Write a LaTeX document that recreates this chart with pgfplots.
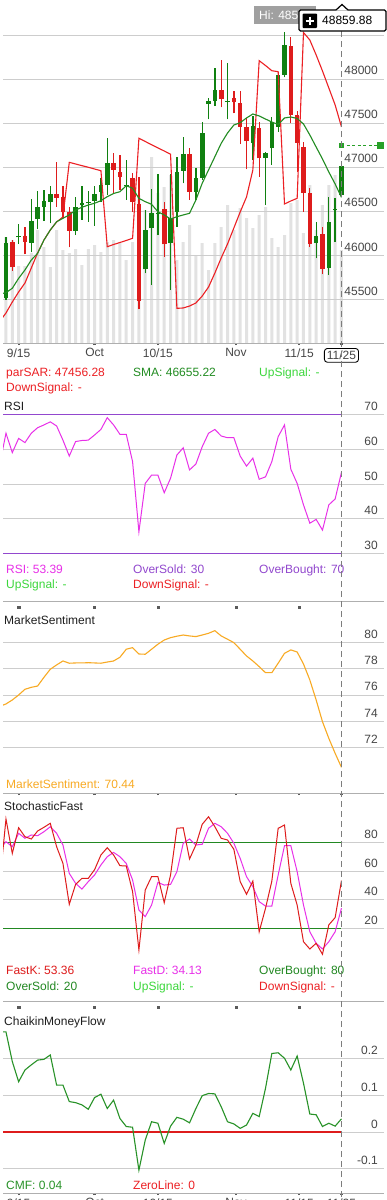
\documentclass[border=0pt]{standalone}
\usepackage{pgfplots}
\pgfplotsset{compat=1.18}
\usepackage{pgfplotstable}
\usepackage{fontspec}
\setmainfont{Liberation Sans}

\definecolor{gridgray}{RGB}{205,205,205}
\definecolor{axisgray}{RGB}{175,175,175}
\definecolor{tickgray}{RGB}{90,90,90}
\definecolor{labelgray}{RGB}{70,70,70}
\definecolor{cgreen}{RGB}{16,128,16}
\definecolor{cred}{RGB}{222,28,28}
\definecolor{volgray}{RGB}{226,226,226}
\definecolor{sarred}{RGB}{236,32,36}
\definecolor{smagreen}{RGB}{34,140,34}
\definecolor{upgreen}{RGB}{60,215,60}
\definecolor{rsimag}{RGB}{232,48,232}
\definecolor{purp}{RGB}{146,72,206}
\definecolor{sentor}{RGB}{248,170,36}
\definecolor{obgreen}{RGB}{34,136,34}
\definecolor{cmfgreen}{RGB}{40,146,40}
\definecolor{dashgray}{RGB}{125,125,125}
\definecolor{higray}{RGB}{160,160,160}
\definecolor{lastgreen}{RGB}{40,160,40}
\definecolor{titlecol}{RGB}{30,30,30}

\newcommand\fs{\fontsize{12}{14}\selectfont}

\pgfplotstableread{
i O H L C
0 45511 46205 45490 46133
2 46201 46349 46125 46219
4 46140 46636 46031 46386
5 46409 46731 46292 46542
6 46549 46739 46386 46614
7 46606 46788 46360 46693
11 46276 46663 46227 46542
12 46565 46788 46398 46588
13 46588 46727 46379 46602
14 46614 46788 46333 46693
15 46719 46872 46606 46795
16 46795 47326 46682 47042
19 46780 47080 46625 46800
22 45837 46511 45792 46284
23 46303 46747 45659 46474
24 46466 46920 46227 46481
26 46133 46920 45602 46417
27 46492 47117 46322 46947
28 46955 47338 46815 47144
30 46719 46992 46625 46878
31 46878 47515 46852 47383
32 47713 47781 47542 47750
33 47753 48122 47693 47875
35 47740 48179 47542 47755
39 47276 47580 47080 47466
41 47102 47170 46568 47156
42 47212 47572 47023 47508
43 47458 48083 47401 48046
44 48046 48538 48019 48386
49 46140 46379 45962 46219
51 45849 46663 45773 46379
52 46510 46644 46151 46528
53 46682 47023 46682 47010
}\greenc

\pgfplotstableread{
i O H L C
1 46148 46170 45822 45860
3 46219 46321 46008 46151
8 46693 47060 46549 46651
9 46663 46788 46417 46485
10 46485 46542 46088 46273
17 47042 47163 46701 46966
18 46947 47136 46739 46883
20 46872 46928 46492 46606
21 46576 46890 45383 45477
25 46523 46606 45981 46122
29 47148 47212 46625 46719
34 47875 48216 47678 47773
36 47781 47867 47610 47735
37 47731 47867 47261 47458
38 47458 47553 46974 47299
40 47440 47515 46890 47099
45 48375 48481 47497 47591
46 47591 47640 46947 47276
47 47231 47288 46492 46708
48 46708 46758 46094 46125
50 46235 46322 45784 45837
}\redc

\pgfplotstableread{
i sar sma vol rsi sent k d cmf
-1 45244 45556 0 55.6 75.13 51.5 75.3 0.273
0 45341 45572 106 64.7 75.32 96.6 80.7 0.273
1 45466 45622 103 59.1 75.62 72.5 77.2 0.192
2 45580 45735 77 63.2 76.00 90.5 86.6 0.137
3 45682 45830 77 62.0 76.43 84.2 83.1 0.169
4 45852 45943 90 64.7 76.58 82.6 85.4 0.183
5 46023 46019 113 66.3 76.68 88.2 84.9 0.196
6 46170 46170 96 67.1 77.34 90.8 87.7 0.198
7 46284 46284 76 68.0 77.95 93.6 91.2 0.210
8 46375 46378 113 66.8 78.28 77.2 86.6 0.128
9 46432 46417 93 62.7 78.58 65.5 78.4 0.128
10 47053 46455 90 58.1 78.41 36.8 58.5 0.083
11 47034 46511 94 62.3 78.43 50.8 51.5 0.080
12 47015 46542 78 62.6 78.43 55.0 47.5 0.074
13 46997 46568 94 62.7 78.45 55.0 52.7 0.062
14 46977 46588 98 64.2 78.43 61.1 57.4 0.094
15 46958 46617 91 65.8 78.41 71.4 64.4 0.103
16 46094 46663 101 69.2 78.50 76.5 70.2 0.064
17 46119 46699 103 67.1 78.58 71.4 73.2 0.087
18 46142 46719 101 64.4 78.86 63.9 70.2 0.037
19 46165 46788 83 64.4 79.47 63.7 65.5 0.015
20 46190 46758 101 56.5 79.59 45.7 53.9 0.013
21 47326 46644 148 36.2 79.11 4.8 32.8 -0.104
22 47290 46606 133 50.2 79.09 46.8 28.2 -0.022
23 47253 46576 186 52.6 79.47 56.2 36.3 0.028
24 47217 46492 150 52.6 79.85 56.2 52.2 0.024
25 47182 46455 156 47.5 80.17 38.0 50.3 -0.031
26 47145 46409 168 51.7 80.35 57.4 50.8 0.016
27 45394 46435 83 58.4 80.46 90.1 59.7 0.040
28 45398 46455 101 60.5 80.55 90.5 79.6 0.035
29 45420 46474 118 54.1 80.48 68.6 82.6 0.025
30 45455 46625 88 55.8 80.43 78.4 78.4 0.064
31 45534 46815 100 60.8 80.55 92.9 78.9 0.099
32 45636 46966 73 64.7 80.68 98.2 90.1 0.105
33 45795 47117 100 65.8 80.88 91.2 93.6 0.104
34 45966 47269 116 63.9 80.48 83.1 91.2 0.069
35 46125 47386 138 63.4 80.23 81.9 86.6 0.028
36 46307 47477 113 63.4 79.97 75.4 79.6 0.022
37 46489 47503 135 58.1 79.47 52.7 69.0 0.010
38 46659 47557 125 55.2 78.96 43.8 56.2 0.019
39 46966 47602 115 57.5 78.58 53.1 49.2 0.051
40 48208 47580 128 51.4 78.15 17.6 38.7 0.042
41 48153 47545 136 52.1 77.69 34.0 35.6 0.119
42 48094 47511 105 56.5 77.69 53.1 35.6 0.214
43 48083 47483 96 63.7 78.41 90.1 57.4 0.216
44 46580 47557 108 67.1 79.16 92.4 77.9 0.201
45 46614 47568 140 54.3 79.42 51.5 77.9 0.169
46 46644 47551 143 50.2 79.26 36.3 59.7 0.207
47 48528 47489 110 44.0 78.35 10.6 36.3 0.133
48 48443 47364 158 38.7 77.14 5.5 17.6 0.049
49 48273 47227 113 39.8 75.62 9.5 9.5 0.047
50 48091 47091 138 36.7 73.97 1.8 5.5 0.015
51 47898 46943 158 44.0 72.71 22.4 10.6 0.024
52 47705 46807 168 45.7 71.57 27.5 17.6 0.016
53 47456 46655 93 53.4 70.51 53.4 34.1 0.036
}\ind

\pgfplotsset{
  panel/.style={
    scale only axis, width=380.5pt,
    xmin=-0.47, xmax=59.64,
    axis x line*=bottom, axis y line*=right,
    x axis line style={draw=axisgray, line width=0.9pt, -},
    y axis line style={draw=none},
    xtick={2,14,24,36.33,46.33,53},
    xticklabels={},
    tick align=outside,
    major tick length=2pt,
    xtick style={draw=tickgray, line width=2.2pt},
    ytick style={draw=none},
    ymajorgrids,
    grid style={draw=gridgray, line width=0.9pt},
    yticklabel style={anchor=base east, inner sep=0pt, xshift=-7.5pt, yshift=4pt, font=\fs, text=labelgray},
    xticklabel style={font=\fs, text=labelgray},
  },
  noxline/.style={x axis line style={draw=none}, xtick style={draw=none}},
  topline/.style={extra description/.code={\draw[axisgray, line width=0.9pt] (rel axis cs:0,1) -- (rel axis cs:1,1);}},
  candle/.style={draw=none, mark=none, forget plot, error bars/.cd, y dir=plus, y explicit, error mark=none,
     error bar style={draw=#1, line width=1.3pt}},
  body/.style={draw=none, mark=none, forget plot, error bars/.cd, y dir=plus, y explicit, error mark=none,
     error bar style={draw=#1, line width=4.6pt}},
  topticks/.style={only marks, mark=square*, mark size=1.1pt, color=tickgray, mark options={draw=none}},
}

\begin{document}
\begin{tikzpicture}
\useasboundingbox (0pt,0pt) rectangle (387pt,-1200pt);
\fill[white] (0pt,0pt) rectangle (387pt,-1200pt);

% ---------- volume (background) ----------
\begin{axis}[scale only axis, width=380.5pt, height=339.7pt, at={(3pt,-343pt)}, anchor=south west,
  xmin=-0.47, xmax=59.64, ymin=0, ymax=339.7, hide axis]
\addplot[ybar, bar width=3pt, fill=volgray, draw=none] table[x=i, y=vol] \ind;
\end{axis}

% ---------- price panel ----------
\begin{axis}[panel, height=339.7pt, at={(3pt,-343pt)}, anchor=south west,
  ymin=45000, ymax=48860,
  ytick={45500,46000,46500,47000,47500,48000,48500},
  yticklabels={45500,46000,46500,47000,47500,48000,{}},
  xtick={2,14,24,36.33,46.33},
  xticklabels={9/15,Oct,10/15,Nov,11/15},
  extra x ticks={53}, extra x tick labels={11/25},
  extra x tick style={xticklabel style={draw=black, line width=0.9pt, rounded corners=3pt, inner sep=2.5pt, yshift=-3pt}},
]
\addplot[candle=cgreen] table[x=i, y=L, y error expr=\thisrow{H}-\thisrow{L}] \greenc;
\addplot[candle=cred] table[x=i, y=L, y error expr=\thisrow{H}-\thisrow{L}] \redc;
\addplot[body=cgreen] table[x=i, y=O, y error expr=\thisrow{C}-\thisrow{O}] \greenc;
\addplot[body=cred] table[x=i, y=C, y error expr=\thisrow{O}-\thisrow{C}] \redc;
\addplot[sarred, line width=1.1pt, mark=none] table[x=i, y=sar] \ind;
\addplot[smagreen, line width=1.1pt, mark=none] table[x=i, y=sma] \ind;
\addplot[lastgreen, line width=1pt, dash pattern=on 3pt off 2.5pt, mark=none] coordinates {(53,47242) (59.1,47242)};
\addplot[lastgreen, only marks, mark=square*, mark size=2pt] coordinates {(53,47242)};
\addplot[lastgreen, only marks, mark=square*, mark size=3pt] coordinates {(59.1,47242)};
\end{axis}

% ---------- RSI ----------
\begin{axis}[panel, noxline, height=206pt, at={(3pt,-601pt)}, anchor=south west,
  ymin=16.21, ymax=75.75, ytick={30,40,50,60,70}, yticklabels={30,40,50,60,70}]
\addplot[purp, line width=1.2pt, mark=none] coordinates {(-1,70) (53,70)};
\addplot[purp, line width=1.2pt, mark=none] coordinates {(-1,30) (53,30)};
\addplot[rsimag, line width=1pt, mark=none] table[x=i, y=rsi] \ind;
\end{axis}

% ---------- Market sentiment ----------
\begin{axis}[panel, topline, height=192pt, at={(3pt,-793pt)}, anchor=south west,
  ymin=68.56, ymax=83.13, ytick={72,74,76,78,80}, yticklabels={72,74,76,78,80}]
\addplot[topticks] coordinates {(2,82.68) (14,82.68) (24,82.68) (36.33,82.68) (46.33,82.68)};
\addplot[sentor, line width=1.1pt, mark=none] table[x=i, y=sent] \ind;
\end{axis}

% ---------- Stochastic fast ----------
\begin{axis}[panel, noxline, height=206pt, at={(3pt,-1001pt)}, anchor=south west,
  ymin=-30.96, ymax=113.43, ytick={20,40,60,80}, yticklabels={20,40,60,80}]
\addplot[obgreen, line width=1.1pt, mark=none] coordinates {(-1,80) (53,80)};
\addplot[obgreen, line width=1.1pt, mark=none] coordinates {(-1,20) (53,20)};
\addplot[rsimag, line width=1pt, mark=none] table[x=i, y=d] \ind;
\addplot[cred, line width=1pt, mark=none] table[x=i, y=k] \ind;
\end{axis}

% ---------- Chaikin money flow ----------
\begin{axis}[panel, topline, height=192pt, at={(3pt,-1193pt)}, anchor=south west,
  ymin=-0.1662, ymax=0.357, ytick={-0.1,0,0.1,0.2}, yticklabels={-0.1,0,0.1,0.2},
  xticklabels={9/15,Oct,10/15,Nov,11/15,11/25}]
\addplot[topticks] coordinates {(2,0.3406) (14,0.3406) (24,0.3406) (36.33,0.3406) (46.33,0.3406)};
\addplot[cred, line width=1.1pt, mark=none] coordinates {(-1,0) (53,0)};
\addplot[cmfgreen, line width=1.1pt, mark=none] table[x=i, y=cmf] \ind;
\end{axis}

% ---------- texts ----------
\begin{scope}[every node/.style={anchor=base west, inner sep=0pt, font=\fs}]
\node[text=sarred] at (6pt,-376pt) {parSAR: 47456.28};
\node[text=smagreen] at (133pt,-376pt) {SMA: 46655.22};
\node[text=upgreen] at (259pt,-376pt) {UpSignal: -};
\node[text=sarred] at (6pt,-391pt) {DownSignal: -};

\node[text=titlecol] at (4pt,-410pt) {RSI};
\node[text=rsimag] at (6pt,-573pt) {RSI: 53.39};
\node[text=purp] at (133pt,-573pt) {OverSold: 30};
\node[text=purp] at (259pt,-573pt) {OverBought: 70};
\node[text=upgreen] at (6pt,-588pt) {UpSignal: -};
\node[text=sarred] at (133pt,-588pt) {DownSignal: -};

\node[text=titlecol] at (4pt,-624.7pt) {MarketSentiment};
\node[text=sentor] at (6pt,-788pt) {MarketSentiment: 70.44};

\node[text=titlecol] at (4pt,-810pt) {StochasticFast};
\node[text=cred] at (6pt,-974pt) {FastK: 53.36};
\node[text=rsimag] at (133pt,-974pt) {FastD: 34.13};
\node[text=obgreen] at (259pt,-974pt) {OverBought: 80};
\node[text=obgreen] at (6pt,-990pt) {OverSold: 20};
\node[text=upgreen] at (133pt,-990pt) {UpSignal: -};
\node[text=sarred] at (259pt,-990pt) {DownSignal: -};

\node[text=titlecol] at (4pt,-1025pt) {ChaikinMoneyFlow};
\node[text=cmfgreen] at (6pt,-1189pt) {CMF: 0.04};
\node[text=sarred] at (133pt,-1189pt) {ZeroLine: 0};
\end{scope}

% crosshair
\draw[dashgray, line width=1.3pt, dash pattern=on 6pt off 4pt] (341.6pt,-31pt) -- (341.6pt,-1200pt);
\fill[higray] (254pt,-6pt) rectangle (316pt,-24pt);
\node[anchor=west, inner sep=0pt, font=\fs, text=white] at (259pt,-15pt) {Hi: 485};
\draw[black, line width=1.2pt, fill=white, rounded corners=1.5pt] (299pt,-10pt) rectangle (386pt,-31pt);
\fill[white] (336pt,-10.7pt) -- (342pt,-4.5pt) -- (348pt,-10.7pt) -- cycle;
\draw[black, line width=1.2pt] (336pt,-10pt) -- (342pt,-4.5pt) -- (348pt,-10pt);
\fill[black, rounded corners=1pt] (302.5pt,-13.5pt) rectangle (317pt,-28pt);
\draw[white, line width=1.6pt] (305.5pt,-20.75pt) -- (314pt,-20.75pt) (309.75pt,-16.5pt) -- (309.75pt,-25pt);
\node[anchor=west, inner sep=0pt, font=\fs, text=black] at (322pt,-20.5pt) {48859.88};
\end{tikzpicture}
\end{document}
